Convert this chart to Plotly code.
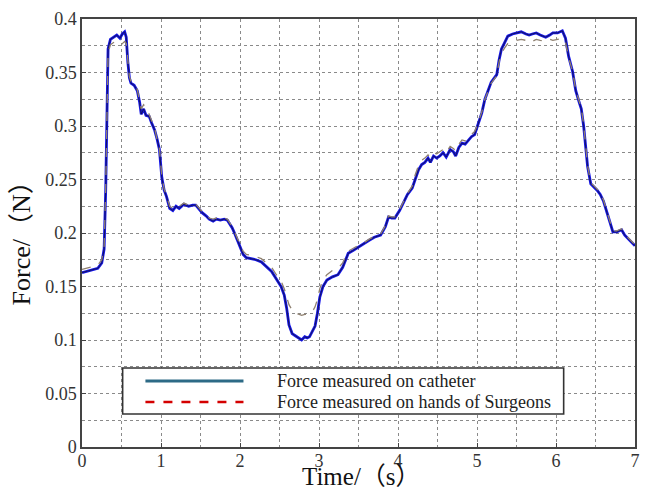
import plotly.graph_objects as go

# ---- data ----
time_s = [0.00, 0.10, 0.20, 0.25, 0.28, 0.30, 0.31, 0.33, 0.36, 0.40, 0.44, 0.48, 0.51, 0.54, 0.56,
          0.58, 0.60, 0.62, 0.66, 0.70, 0.73, 0.75, 0.78, 0.81, 0.85, 0.88, 0.92, 0.95, 0.98, 1.01,
          1.04, 1.07, 1.11, 1.15, 1.19, 1.23, 1.29, 1.35, 1.40, 1.44, 1.48, 1.52, 1.57, 1.61, 1.66,
          1.70, 1.75, 1.80, 1.84, 1.87, 1.90, 1.93, 1.96, 2.00, 2.04, 2.08, 2.15, 2.20, 2.27, 2.33,
          2.40, 2.46, 2.52, 2.56, 2.59, 2.62, 2.66, 2.70, 2.75, 2.78, 2.82, 2.85, 2.88, 2.92, 2.95,
          2.98, 3.01, 3.05, 3.10, 3.17, 3.24, 3.30, 3.34, 3.37, 3.44, 3.50, 3.57, 3.63, 3.70, 3.78,
          3.84, 3.88, 3.92, 3.96, 4.02, 4.08, 4.12, 4.18, 4.22, 4.26, 4.30, 4.34, 4.38, 4.41, 4.45,
          4.49, 4.53, 4.57, 4.61, 4.66, 4.70, 4.73, 4.77, 4.81, 4.85, 4.89, 4.93, 4.97, 5.00, 5.03,
          5.06, 5.10, 5.14, 5.18, 5.22, 5.25, 5.28, 5.31, 5.35, 5.39, 5.45, 5.50, 5.56, 5.62, 5.66,
          5.70, 5.75, 5.80, 5.87, 5.92, 5.96, 6.02, 6.08, 6.12, 6.16, 6.21, 6.25, 6.29, 6.32, 6.35,
          6.38, 6.40, 6.44, 6.48, 6.52, 6.56, 6.60, 6.65, 6.69, 6.72, 6.77, 6.83, 6.87, 6.92, 6.96,
          7.00]

force_catheter = [0.163, 0.165, 0.167, 0.172, 0.185, 0.240, 0.290, 0.372, 0.381, 0.383, 0.385, 0.382, 0.386, 0.388, 0.383,
                  0.360, 0.345, 0.340, 0.338, 0.333, 0.322, 0.311, 0.316, 0.310, 0.309, 0.303, 0.296, 0.288, 0.278, 0.252,
                  0.240, 0.234, 0.223, 0.221, 0.225, 0.223, 0.227, 0.225, 0.226, 0.226, 0.222, 0.219, 0.216, 0.213, 0.211,
                  0.213, 0.212, 0.213, 0.212, 0.209, 0.205, 0.200, 0.194, 0.186, 0.180, 0.177, 0.176, 0.175, 0.173, 0.169,
                  0.164, 0.157, 0.150, 0.142, 0.130, 0.114, 0.106, 0.104, 0.101, 0.100, 0.103, 0.102, 0.103, 0.108, 0.113,
                  0.125, 0.140, 0.150, 0.156, 0.159, 0.161, 0.168, 0.176, 0.181, 0.184, 0.187, 0.190, 0.193, 0.196, 0.198,
                  0.206, 0.215, 0.214, 0.214, 0.221, 0.230, 0.236, 0.242, 0.251, 0.259, 0.264, 0.266, 0.270, 0.266, 0.272,
                  0.270, 0.272, 0.275, 0.271, 0.278, 0.276, 0.272, 0.280, 0.284, 0.283, 0.287, 0.290, 0.292, 0.298, 0.305,
                  0.312, 0.325, 0.334, 0.341, 0.345, 0.348, 0.362, 0.372, 0.378, 0.384, 0.386, 0.387, 0.388, 0.386, 0.385,
                  0.386, 0.387, 0.385, 0.383, 0.385, 0.387, 0.387, 0.389, 0.382, 0.365, 0.351, 0.333, 0.323, 0.316, 0.300,
                  0.280, 0.262, 0.246, 0.243, 0.240, 0.236, 0.230, 0.218, 0.207, 0.201, 0.201, 0.203, 0.198, 0.194, 0.191,
                  0.188]

force_surgeon = [0.166, 0.168, 0.170, 0.175, 0.188, 0.242, 0.290, 0.368, 0.376, 0.378, 0.376, 0.375, 0.377, 0.379, 0.377,
                 0.360, 0.346, 0.342, 0.339, 0.334, 0.324, 0.316, 0.320, 0.317, 0.311, 0.305, 0.298, 0.287, 0.279, 0.253,
                 0.241, 0.235, 0.225, 0.223, 0.226, 0.225, 0.228, 0.226, 0.227, 0.227, 0.223, 0.220, 0.217, 0.214, 0.213,
                 0.214, 0.213, 0.214, 0.213, 0.210, 0.206, 0.201, 0.196, 0.189, 0.183, 0.180, 0.179, 0.178, 0.176, 0.172,
                 0.168, 0.161, 0.155, 0.148, 0.141, 0.133, 0.128, 0.125, 0.124, 0.123, 0.124, 0.124, 0.125, 0.127, 0.131,
                 0.138, 0.148, 0.156, 0.161, 0.165, 0.167, 0.172, 0.179, 0.183, 0.186, 0.188, 0.191, 0.194, 0.197, 0.199,
                 0.207, 0.216, 0.215, 0.215, 0.222, 0.231, 0.237, 0.244, 0.255, 0.263, 0.268, 0.270, 0.273, 0.271, 0.275,
                 0.274, 0.276, 0.278, 0.275, 0.281, 0.279, 0.277, 0.283, 0.287, 0.286, 0.290, 0.292, 0.295, 0.300, 0.306,
                 0.313, 0.325, 0.333, 0.340, 0.344, 0.347, 0.360, 0.368, 0.373, 0.377, 0.379, 0.380, 0.381, 0.380, 0.381,
                 0.379, 0.381, 0.380, 0.379, 0.381, 0.380, 0.381, 0.382, 0.378, 0.364, 0.351, 0.334, 0.324, 0.317, 0.301,
                 0.281, 0.263, 0.247, 0.244, 0.241, 0.237, 0.231, 0.219, 0.208, 0.202, 0.202, 0.204, 0.199, 0.195, 0.192,
                 0.189]

x_ticks = [0, 1, 2, 3, 4, 5, 6, 7]
y_ticks = [0, 0.05, 0.1, 0.15, 0.2, 0.25, 0.3, 0.35, 0.4]
y_tick_labels = ["0", "0.05", "0.1", "0.15", "0.2", "0.25", "0.3", "0.35", "0.4"]

legend_labels = ["Force measured on catheter", "Force measured on hands of Surgeons"]

SERIF = "Liberation Serif, Times New Roman, Noto Sans CJK SC, serif"
GRID = "#8a8a8a"

fig = go.Figure()
fig.add_trace(go.Scatter(x=time_s, y=force_catheter, mode="lines",
                         line=dict(color="#1414e8", width=2.8), showlegend=False))
fig.add_trace(go.Scatter(x=time_s, y=force_catheter, mode="lines",
                         line=dict(color="#15153a", width=0.8), showlegend=False))
fig.add_trace(go.Scatter(x=time_s, y=force_surgeon, mode="lines",
                         line=dict(color="#8f8070", width=1.3, dash="dash"), showlegend=False))

grid = dict(showgrid=True, gridcolor=GRID, gridwidth=1, griddash="dot")

fig.update_xaxes(range=[0, 7], tickvals=x_ticks, ticks="inside", ticklen=4, tickcolor="#444",
                 showline=True, mirror=True, linecolor="#444", linewidth=1.5,
                 tickfont=dict(family=SERIF, size=18, color="#333"), ticklabelstandoff=-3,
                 minor=dict(dtick=0.5, showgrid=True, gridcolor=GRID, griddash="dot", gridwidth=1),
                 zeroline=False, **grid)
fig.update_yaxes(range=[0, 0.4], tickvals=y_ticks, ticktext=y_tick_labels, ticks="inside", ticklen=4,
                 tickcolor="#444", showline=True, mirror=True, linecolor="#444", linewidth=1.5,
                 tickfont=dict(family=SERIF, size=18, color="#333"),
                 minor=dict(dtick=0.025, tick0=0, showgrid=True, gridcolor=GRID, griddash="dot", gridwidth=1),
                 zeroline=False, **grid)

# hand-drawn legend box (as in the reference)
shapes = [
    dict(type="rect", xref="paper", yref="paper", x0=0.0735, x1=0.871, y0=0.0771, y1=0.1846,
         fillcolor="white", line=dict(color="#333", width=1.6), layer="above"),
    dict(type="line", xref="paper", yref="paper", x0=0.1147, x1=0.292, y0=0.1542, y1=0.1542,
         line=dict(color="#2d6a86", width=3), layer="above"),
    dict(type="line", xref="paper", yref="paper", x0=0.1147, x1=0.292, y0=0.1051, y1=0.1051,
         line=dict(color="#d40000", width=2.6, dash="dash"), layer="above"),
]
annotations = [
    dict(text=legend_labels[0], xref="paper", yref="paper", x=0.3495, y=0.1542,
         xanchor="left", yanchor="middle", showarrow=False,
         font=dict(family=SERIF, size=18, color="#222")),
    dict(text=legend_labels[1], xref="paper", yref="paper", x=0.3495, y=0.1051,
         xanchor="left", yanchor="middle", showarrow=False,
         font=dict(family=SERIF, size=18, color="#222")),
    dict(text="Time/（s）", xref="paper", yref="paper", x=0.505, y=-0.068,
         xanchor="center", yanchor="middle", showarrow=False,
         font=dict(family=SERIF, size=25, color="#111")),
    dict(text="Force/（N）", xref="paper", yref="paper", x=-0.11, y=0.49,
         xanchor="center", yanchor="middle", showarrow=False, textangle=-90,
         font=dict(family=SERIF, size=26, color="#111")),
]

fig.update_layout(width=649, height=488, margin=dict(l=82, r=9, t=19, b=41),
                  paper_bgcolor="white", plot_bgcolor="white",
                  shapes=shapes, annotations=annotations, showlegend=False)

fig.write_html("out.html")
